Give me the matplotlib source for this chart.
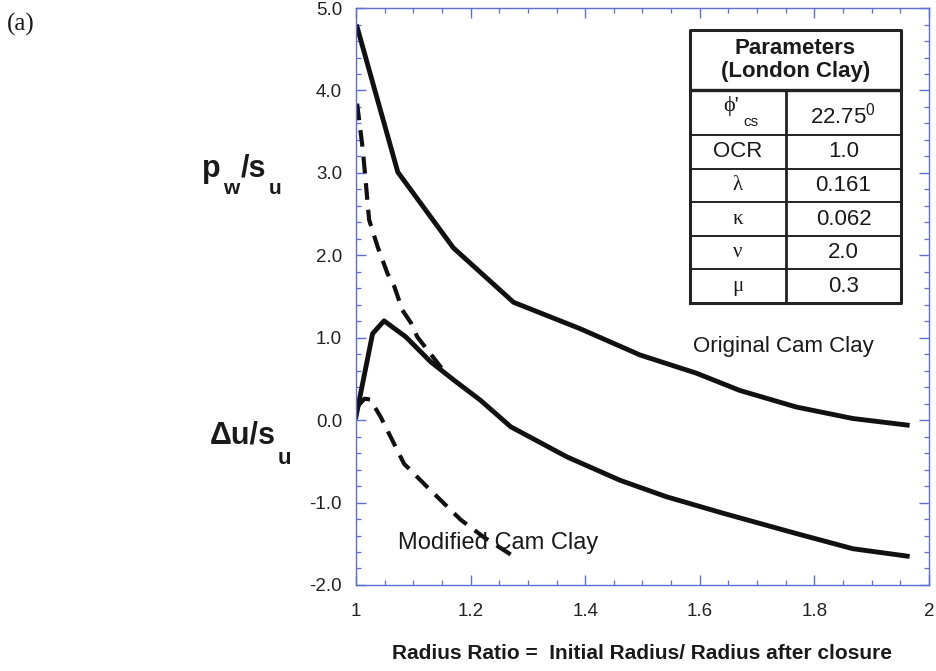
import matplotlib
matplotlib.use('Agg')
import matplotlib.pyplot as plt
from matplotlib.ticker import MultipleLocator, FuncFormatter
import numpy as np

plt.rcParams['font.family'] = ['Liberation Sans', 'DejaVu Sans']
plt.rcParams['mathtext.fontset'] = 'custom'
plt.rcParams['mathtext.rm'] = 'Liberation Sans'
plt.rcParams['mathtext.bf'] = 'Liberation Sans:bold'
plt.rcParams['mathtext.it'] = 'Liberation Sans:italic'

# Original Cam Clay, wall pressure p_w/s_u
occ_pw_x = [1.002, 1.073, 1.17, 1.275, 1.391, 1.496, 1.594, 1.670, 1.768, 1.867, 1.962]
occ_pw_y = [4.77, 3.01, 2.09, 1.43, 1.11, 0.79, 0.57, 0.36, 0.16, 0.02, -0.06]
# Original Cam Clay, excess pore pressure du/s_u
occ_du_x = [1.0, 1.029, 1.049, 1.087, 1.130, 1.171, 1.217, 1.27, 1.368, 1.461, 1.542, 1.641, 1.768, 1.867, 1.962]
occ_du_y = [0.04, 1.05, 1.205, 1.01, 0.71, 0.485, 0.243, -0.08, -0.445, -0.73, -0.93, -1.13, -1.375, -1.56, -1.65]
# Modified Cam Clay, wall pressure
mcc_pw_x = [1.002, 1.012, 1.023, 1.038, 1.055, 1.067, 1.081, 1.096, 1.107, 1.125, 1.159]
mcc_pw_y = [3.84, 3.28, 2.43, 2.10, 1.78, 1.62, 1.335, 1.18, 1.01, 0.85, 0.546]
# Modified Cam Clay, excess pore pressure
mcc_du_x = [1.002, 1.015, 1.025, 1.043, 1.084, 1.130, 1.183, 1.223, 1.27]
mcc_du_y = [0.16, 0.26, 0.25, 0.04, -0.53, -0.85, -1.21, -1.42, -1.63]

param_names = ["OCR", "\u03bb", "\u03ba", "\u03bd", "\u03bc"]
param_values = ["1.0", "0.161", "0.062", "2.0", "0.3"]

blue = '#5b6fd6'
ink = '#1a1a1a'

fig = plt.figure(figsize=(9.36, 6.71), dpi=100)
ax = fig.add_axes([0.3803, 0.1282, 0.6122, 0.8598])

ax.plot(occ_pw_x, occ_pw_y, color='#111111', lw=3.5, solid_joinstyle='round')
ax.plot(occ_du_x, occ_du_y, color='#111111', lw=3.5, solid_joinstyle='round')
ax.plot(mcc_pw_x, mcc_pw_y, color='#111111', lw=3.0, dashes=(4, 2.4))
ax.plot(mcc_du_x, mcc_du_y, color='#111111', lw=3.0, dashes=(4, 2.4))

ax.set_xlim(1, 2)
ax.set_ylim(-2, 5)
ax.xaxis.set_major_locator(MultipleLocator(0.2))
ax.xaxis.set_minor_locator(MultipleLocator(0.05))
ax.yaxis.set_major_locator(MultipleLocator(1.0))
ax.yaxis.set_minor_locator(MultipleLocator(0.2))
ax.xaxis.set_major_formatter(FuncFormatter(lambda v, p: '%d' % round(v) if abs(v - round(v)) < 1e-6 else '%.1f' % v))
ax.yaxis.set_major_formatter(FuncFormatter(lambda v, p: '%.1f' % v))

for s in ax.spines.values():
    s.set_color(blue)
    s.set_linewidth(1.0)
ax.tick_params(which='both', direction='in', top=True, right=True, color=blue,
               labelsize=13.5, labelcolor='#222222')
ax.tick_params(which='major', length=7, width=1.0)
ax.tick_params(which='minor', length=3.5, width=0.9)
ax.tick_params(axis='y', pad=10)
ax.tick_params(axis='x', pad=13)

ax.text(1.588, 0.89, "Original Cam Clay", fontsize=16, color=ink, ha='left', va='center')
ax.text(1.073, -1.49, "Modified Cam Clay", fontsize=17, color=ink, ha='left', va='center')

ax.set_xlabel("Radius Ratio =  Initial Radius/ Radius after closure",
              fontsize=15, fontweight='bold', labelpad=17, color=ink)

fig.text(0.007, 0.963, "(a)", fontsize=18, family=['Liberation Serif', 'DejaVu Serif'],
         va='center', color=ink)

# y labels: subscripts dropped well below the baseline
renderer = fig.canvas.get_renderer()
W, H = fig.bbox.width, fig.bbox.height


def chain(x_px, base_px, parts):
    x = x_px
    for s, drop, size in parts:
        t = fig.text(x / W, 1 - (base_px + drop) / H, s, fontsize=size, fontweight='bold',
                     ha='left', va='baseline', color=ink)
        x = t.get_window_extent(renderer).x1 + 2


chain(202, 177, [("p", 0, 22), ("w", 17, 15), ("/s", 0, 22), ("u", 17, 15)])
chain(210, 444, [("\u0394u/s", 0, 22), ("u", 20, 16)])

# parameter table
tab = fig.add_axes([0.737, 0.5484, 0.2256, 0.4069])
tab.set_xlim(0, 1)
tab.set_ylim(0, 1)
tab.axis('off')
heights = [60, 45] + [33.6] * len(param_names)
total = sum(heights)
edges = np.cumsum([0] + heights) / total
tops = 1 - edges
split = (786 - 690) / (901 - 690)
tab.plot([0, 1, 1, 0, 0], [0, 0, 1, 1, 0], color='#222222', lw=2.2, clip_on=False)
tab.plot([0, 1], [tops[1], tops[1]], color='#222222', lw=2.4)
for yv in tops[2:-1]:
    tab.plot([0, 1], [yv, yv], color='#222222', lw=1.4)
tab.plot([split, split], [0, tops[1]], color='#222222', lw=2.0)

tab.text(0.5, (tops[0] + tops[1]) / 2, "Parameters\n(London Clay)", fontsize=16,
         fontweight='bold', ha='center', va='center', linespacing=1.1, color=ink)
yc = (tops[1] + tops[2]) / 2
tab.text(split / 2 - 0.03, yc + 0.025, "\u03d5'", fontsize=16, ha='center', va='center',
         family=['Liberation Serif', 'DejaVu Serif'], color=ink)
tab.text(split / 2 + 0.06, yc - 0.035, "cs", fontsize=11, ha='center', va='center', color=ink)
tab.text((split + 1) / 2, yc - 0.01, r"22.75$^0$", fontsize=16, ha='center', va='center', color=ink)
for i, (nm, vl) in enumerate(zip(param_names, param_values)):
    y = (tops[i + 2] + tops[i + 3]) / 2
    if i == 0:
        tab.text(split / 2, y, nm, fontsize=16, ha='center', va='center', color=ink)
    else:
        tab.text(split / 2, y, nm, fontsize=15, ha='center', va='center',
                 family=['Liberation Serif', 'DejaVu Serif'], color=ink)
    tab.text((split + 1) / 2, y, vl, fontsize=16, ha='center', va='center', color=ink)

fig.savefig("out.png", dpi=100)
